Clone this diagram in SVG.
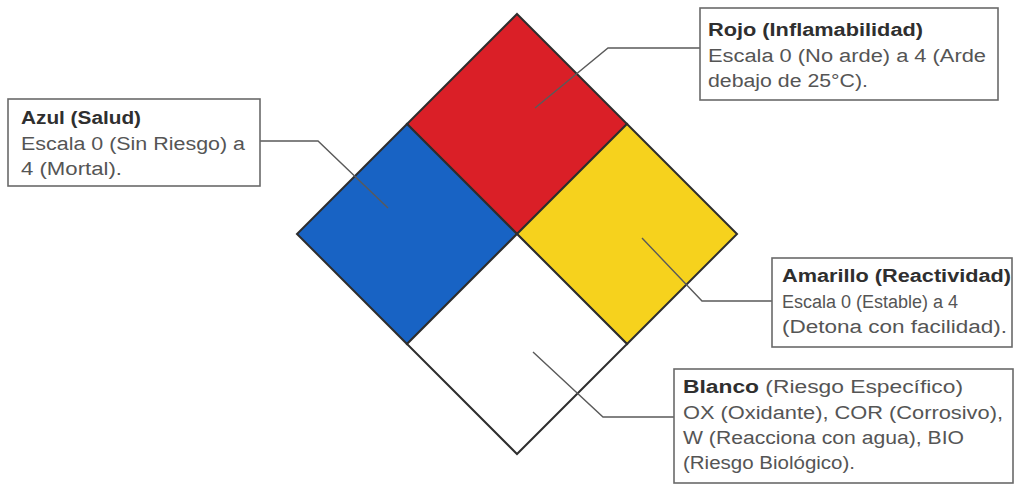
<svg xmlns="http://www.w3.org/2000/svg" width="1015" height="487" viewBox="0 0 1015 487">
<style>
.q{stroke:#2e2e2e;stroke-width:2;stroke-linejoin:miter}
.box{fill:#fff;stroke:#6a6a6a;stroke-width:1.6}
.c{fill:none;stroke:#5a5a5a;stroke-width:1.4}
.t{font-family:"Liberation Sans",Arial,sans-serif;font-size:18px;font-weight:bold;fill:#2f2f2f}
.b{font-family:"Liberation Sans",Arial,sans-serif;font-size:18px;fill:#555}
</style>
<rect width="1015" height="487" fill="#fff"/>
<g id="diamond">
<polygon id="rojo" class="q" fill="#da1f27" points="517,14 627,124 517,234 407,124"/>
<polygon id="azul" class="q" fill="#1863c4" points="407,124 517,234 407,344 297,234"/>
<polygon id="amarillo" class="q" fill="#f6d21d" points="627,124 737,234 627,344 517,234"/>
<polygon id="blanco" class="q" fill="#ffffff" points="517,234 627,344 517,454 407,344"/>
</g>
<g id="connectors">
<polyline class="c" points="535,108 608,48 700,48"/>
<polyline class="c" points="260,141 318,141 388,208"/>
<polyline class="c" points="642,238 702,301 772,301"/>
<polyline class="c" points="533,352 603,417 674,417"/>
</g>
<g id="box-azul">
<rect class="box" x="8" y="99" width="252" height="87"/>
<text class="t" x="21" y="124" textLength="120" lengthAdjust="spacingAndGlyphs">Azul (Salud)</text>
<text class="b" x="21" y="150" textLength="224" lengthAdjust="spacingAndGlyphs">Escala 0 (Sin Riesgo) a</text>
<text class="b" x="21" y="175" textLength="101" lengthAdjust="spacingAndGlyphs">4 (Mortal).</text>
</g>
<g id="box-rojo">
<rect class="box" x="700" y="8" width="298" height="92"/>
<text class="t" x="708" y="36" textLength="215" lengthAdjust="spacingAndGlyphs">Rojo (Inflamabilidad)</text>
<text class="b" x="708" y="62" textLength="278" lengthAdjust="spacingAndGlyphs">Escala 0 (No arde) a 4 (Arde</text>
<text class="b" x="708" y="87" textLength="160" lengthAdjust="spacingAndGlyphs">debajo de 25°C).</text>
</g>
<g id="box-amarillo">
<rect class="box" x="772" y="258" width="240" height="89"/>
<text class="t" x="782" y="282" textLength="229" lengthAdjust="spacingAndGlyphs">Amarillo (Reactividad)</text>
<text class="b" x="782" y="308">Escala 0 (Estable) a 4</text>
<text class="b" x="782" y="333" textLength="225" lengthAdjust="spacingAndGlyphs">(Detona con facilidad).</text>
</g>
<g id="box-blanco">
<rect class="box" x="674" y="369" width="339" height="114"/>
<text class="b" x="683" y="393" textLength="280" lengthAdjust="spacingAndGlyphs"><tspan class="t">Blanco</tspan> (Riesgo Específico)</text>
<text class="b" x="683" y="419" textLength="320" lengthAdjust="spacingAndGlyphs">OX (Oxidante), COR (Corrosivo),</text>
<text class="b" x="683" y="444" textLength="281" lengthAdjust="spacingAndGlyphs">W (Reacciona con agua), BIO</text>
<text class="b" x="683" y="469" textLength="172" lengthAdjust="spacingAndGlyphs">(Riesgo Biológico).</text>
</g>
</svg>
